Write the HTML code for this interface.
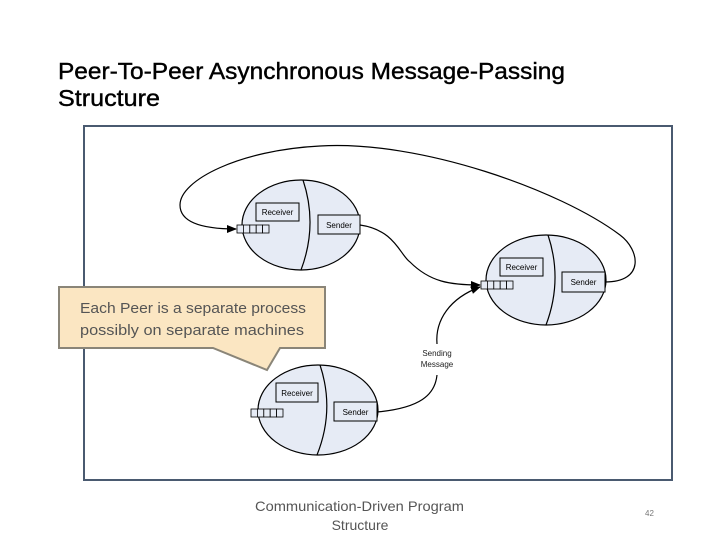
<!DOCTYPE html>
<html><head><meta charset="utf-8"><style>
html,body{margin:0;padding:0;background:#fff;}
svg{display:block;}
</style></head><body>
<svg width="720" height="540" viewBox="0 0 720 540" xmlns="http://www.w3.org/2000/svg" font-family="Liberation Sans, sans-serif">
<defs>
<marker id="ah" markerWidth="10" markerHeight="8" refX="9" refY="4" orient="auto" markerUnits="userSpaceOnUse">
<path d="M0,0 L10,4 L0,8 z" fill="#000"/>
</marker>
</defs>
<text x="58" y="79" font-size="23" fill="#000" stroke="#000" stroke-width="0.4" textLength="507" lengthAdjust="spacingAndGlyphs">Peer-To-Peer Asynchronous Message-Passing</text>
<text x="58" y="106" font-size="23" fill="#000" stroke="#000" stroke-width="0.4" textLength="102" lengthAdjust="spacingAndGlyphs">Structure</text>

<rect x="84" y="126" width="588" height="354" fill="#fff" stroke="#4a5a70" stroke-width="2"/>

<!-- connectors -->
<path d="M605,282 C645,282 640,250 620,235 C560,190 420,140 320,146 C240,150 180,180 180,205 C180,225 210,229 236,229" fill="none" stroke="#000" stroke-width="1.2" marker-end="url(#ah)"/>
<path d="M360,225 C395,230 400,255 410,262 C430,282 450,285 480,285" fill="none" stroke="#000" stroke-width="1.2" marker-end="url(#ah)"/>
<path d="M377,412 C420,408 435,395 437,375" fill="none" stroke="#000" stroke-width="1.2"/>
<path d="M437,344 C435,320 450,298 480,287" fill="none" stroke="#000" stroke-width="1.2" marker-end="url(#ah)"/>
<text x="437" y="356" font-size="8" text-anchor="middle" fill="#222">Sending</text>
<text x="437" y="367" font-size="8" text-anchor="middle" fill="#222">Message</text>

<!-- peer 1 -->
<g>
<ellipse cx="301" cy="225" rx="59" ry="45" fill="#e6ebf5" stroke="#000" stroke-width="1.2"/>
<path d="M303,180 Q318,225 301,270" fill="none" stroke="#000" stroke-width="1.2"/>
<rect x="256" y="203" width="43" height="18" fill="#e6ebf5" stroke="#000"/>
<text x="277.5" y="215" font-size="8" text-anchor="middle">Receiver</text>
<rect x="318" y="215" width="42" height="19" fill="#e6ebf5" stroke="#000"/>
<text x="339" y="228" font-size="8" text-anchor="middle">Sender</text>
<g fill="#e6ebf5" stroke="#000" stroke-width="0.8">
<rect x="237" y="225" width="6.4" height="8"/><rect x="243.4" y="225" width="6.4" height="8"/><rect x="249.8" y="225" width="6.4" height="8"/><rect x="256.2" y="225" width="6.4" height="8"/><rect x="262.6" y="225" width="6.4" height="8"/>
</g>
</g>

<!-- peer 2 -->
<g>
<ellipse cx="546" cy="280" rx="60" ry="45" fill="#e6ebf5" stroke="#000" stroke-width="1.2"/>
<path d="M548,235 Q563,280 546,325" fill="none" stroke="#000" stroke-width="1.2"/>
<rect x="500" y="258" width="43" height="18" fill="#e6ebf5" stroke="#000"/>
<text x="521.5" y="270" font-size="8" text-anchor="middle">Receiver</text>
<rect x="562" y="272" width="43" height="20" fill="#e6ebf5" stroke="#000"/>
<text x="583.5" y="285" font-size="8" text-anchor="middle">Sender</text>
<g fill="#e6ebf5" stroke="#000" stroke-width="0.8">
<rect x="481" y="281" width="6.4" height="8"/><rect x="487.4" y="281" width="6.4" height="8"/><rect x="493.8" y="281" width="6.4" height="8"/><rect x="500.2" y="281" width="6.4" height="8"/><rect x="506.6" y="281" width="6.4" height="8"/>
</g>
</g>

<!-- peer 3 -->
<g>
<ellipse cx="318" cy="410" rx="60" ry="45" fill="#e6ebf5" stroke="#000" stroke-width="1.2"/>
<path d="M320,365 Q335,410 317,455" fill="none" stroke="#000" stroke-width="1.2"/>
<rect x="276" y="383" width="42" height="19" fill="#e6ebf5" stroke="#000"/>
<text x="297" y="396" font-size="8" text-anchor="middle">Receiver</text>
<rect x="334" y="402" width="43" height="19" fill="#e6ebf5" stroke="#000"/>
<text x="355.5" y="415" font-size="8" text-anchor="middle">Sender</text>
<g fill="#e6ebf5" stroke="#000" stroke-width="0.8">
<rect x="251" y="409" width="6.4" height="8"/><rect x="257.4" y="409" width="6.4" height="8"/><rect x="263.8" y="409" width="6.4" height="8"/><rect x="270.2" y="409" width="6.4" height="8"/><rect x="276.6" y="409" width="6.4" height="8"/>
</g>
</g>

<!-- callout -->
<path d="M59,287 L325,287 L325,348 L280,348 L267,370 L213,348 L59,348 Z" fill="#fbe6c2" stroke="#8a8578" stroke-width="2"/>
<text x="80" y="313" font-size="15" fill="#555" textLength="226" lengthAdjust="spacingAndGlyphs">Each Peer is a separate process</text>
<text x="80" y="335" font-size="15" fill="#555" textLength="224" lengthAdjust="spacingAndGlyphs">possibly on separate machines</text>

<text x="255" y="511" font-size="14" fill="#555" textLength="209" lengthAdjust="spacingAndGlyphs">Communication-Driven Program</text>
<text x="360" y="530" font-size="14" text-anchor="middle" fill="#555">Structure</text>
<text x="645" y="516" font-size="8" fill="#777">42</text>
</svg>
</body></html>
